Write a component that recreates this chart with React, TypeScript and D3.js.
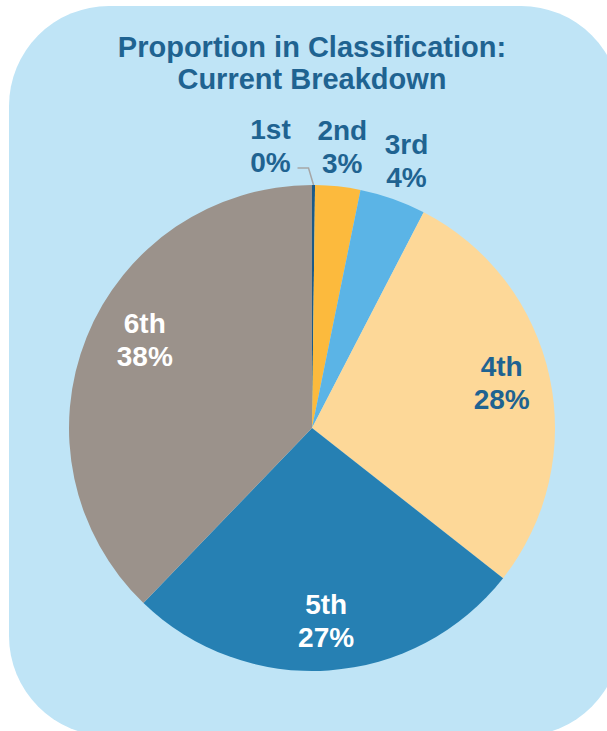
import React, { useEffect, useRef } from 'react';
import * as d3 from 'd3';

const W = 607;
const H = 731;

// chart data
const categories = ['1st', '2nd', '3rd', '4th', '5th', '6th'];
const shares = [0.2, 3.0, 4.4, 28.0, 26.6, 37.8];
const titleLines = ['Proportion in Classification:', 'Current Breakdown'];

const sliceColors = ['#1B5A87', '#FCBA3D', '#5BB4E6', '#FDD898', '#2680B3', '#9B928B'];
const labelColors = ['#1F6391', '#1F6391', '#1F6391', '#1F6391', '#FFFFFF', '#FFFFFF'];

const App = () => {
  const svgRef = useRef<SVGSVGElement>(null);

  useEffect(() => {
    const svg = d3.select(svgRef.current);
    svg.selectAll('*').remove();

    const font = '"Liberation Sans", Arial, sans-serif';
    const cx = 312;
    const cy = 428;
    const radius = 243;

    // background panel
    svg.append('rect')
      .attr('x', 9)
      .attr('y', 6)
      .attr('width', 612)
      .attr('height', 730)
      .attr('rx', 100)
      .attr('ry', 100)
      .attr('fill', '#BFE4F6');

    // title
    const title = svg.append('text')
      .attr('text-anchor', 'middle')
      .attr('font-family', font)
      .attr('font-weight', 'bold')
      .attr('font-size', 29)
      .attr('fill', '#1F6391');
    titleLines.forEach((t, i) => {
      title.append('tspan')
        .attr('x', 312)
        .attr('y', 57 + i * 32)
        .text(t);
    });

    const data = categories.map((c, i) => ({ cat: c, value: shares[i], idx: i }));
    const total = d3.sum(shares);

    const pie = d3.pie<any>()
      .sort(null)
      .value(d => d.value)
      .startAngle(0)
      .endAngle(2 * Math.PI);
    const arcs = pie(data);

    const arc = d3.arc<any>().innerRadius(0).outerRadius(radius);
    const innerLabelArc = d3.arc<any>().innerRadius(190).outerRadius(190);
    const outerLabelArc = d3.arc<any>().innerRadius(284).outerRadius(284);

    const g = svg.append('g').attr('transform', `translate(${cx},${cy})`);

    g.selectAll('path.slice')
      .data(arcs)
      .enter().append('path')
      .attr('class', 'slice')
      .attr('d', arc)
      .attr('fill', d => sliceColors[d.data.idx]);

    // leader line for the tiny first slice
    const first = arcs[0];
    const mid = (first.startAngle + first.endAngle) / 2;
    const px = Math.sin(mid) * radius;
    const py = -Math.cos(mid) * radius;
    g.append('polyline')
      .attr('points', `${px},${py} ${px - 5},${py - 17} ${px - 16},${py - 17}`)
      .attr('fill', 'none')
      .attr('stroke', '#A6A6A6')
      .attr('stroke-width', 1.5);

    const labelPos = (d: any) => {
      const i = d.data.idx;
      if (i === 0) return [px - 43, py - 40];
      if (i < 3) return outerLabelArc.centroid(d);
      const [x, y] = innerLabelArc.centroid(d);
      if (i === 3) return [x + 4, y - 6];
      if (i === 5) return [x + 9, y - 18];
      return [x + 1, y + 2];
    };

    arcs.forEach(d => {
      const [x, y] = labelPos(d);
      const pct = Math.round((d.data.value / total) * 100);
      const t = g.append('text')
        .attr('text-anchor', 'middle')
        .attr('font-family', font)
        .attr('font-weight', 'bold')
        .attr('font-size', 28)
        .attr('fill', labelColors[d.data.idx]);
      t.append('tspan').attr('x', x).attr('y', y - 6).text(d.data.cat);
      t.append('tspan').attr('x', x).attr('y', y + 27).text(`${pct}%`);
    });
  }, []);

  return (
    <svg
      ref={svgRef}
      width={W}
      height={H}
      style={{ position: 'absolute', left: 0, top: 0, display: 'block' }}
    ></svg>
  );
};

export default App;
